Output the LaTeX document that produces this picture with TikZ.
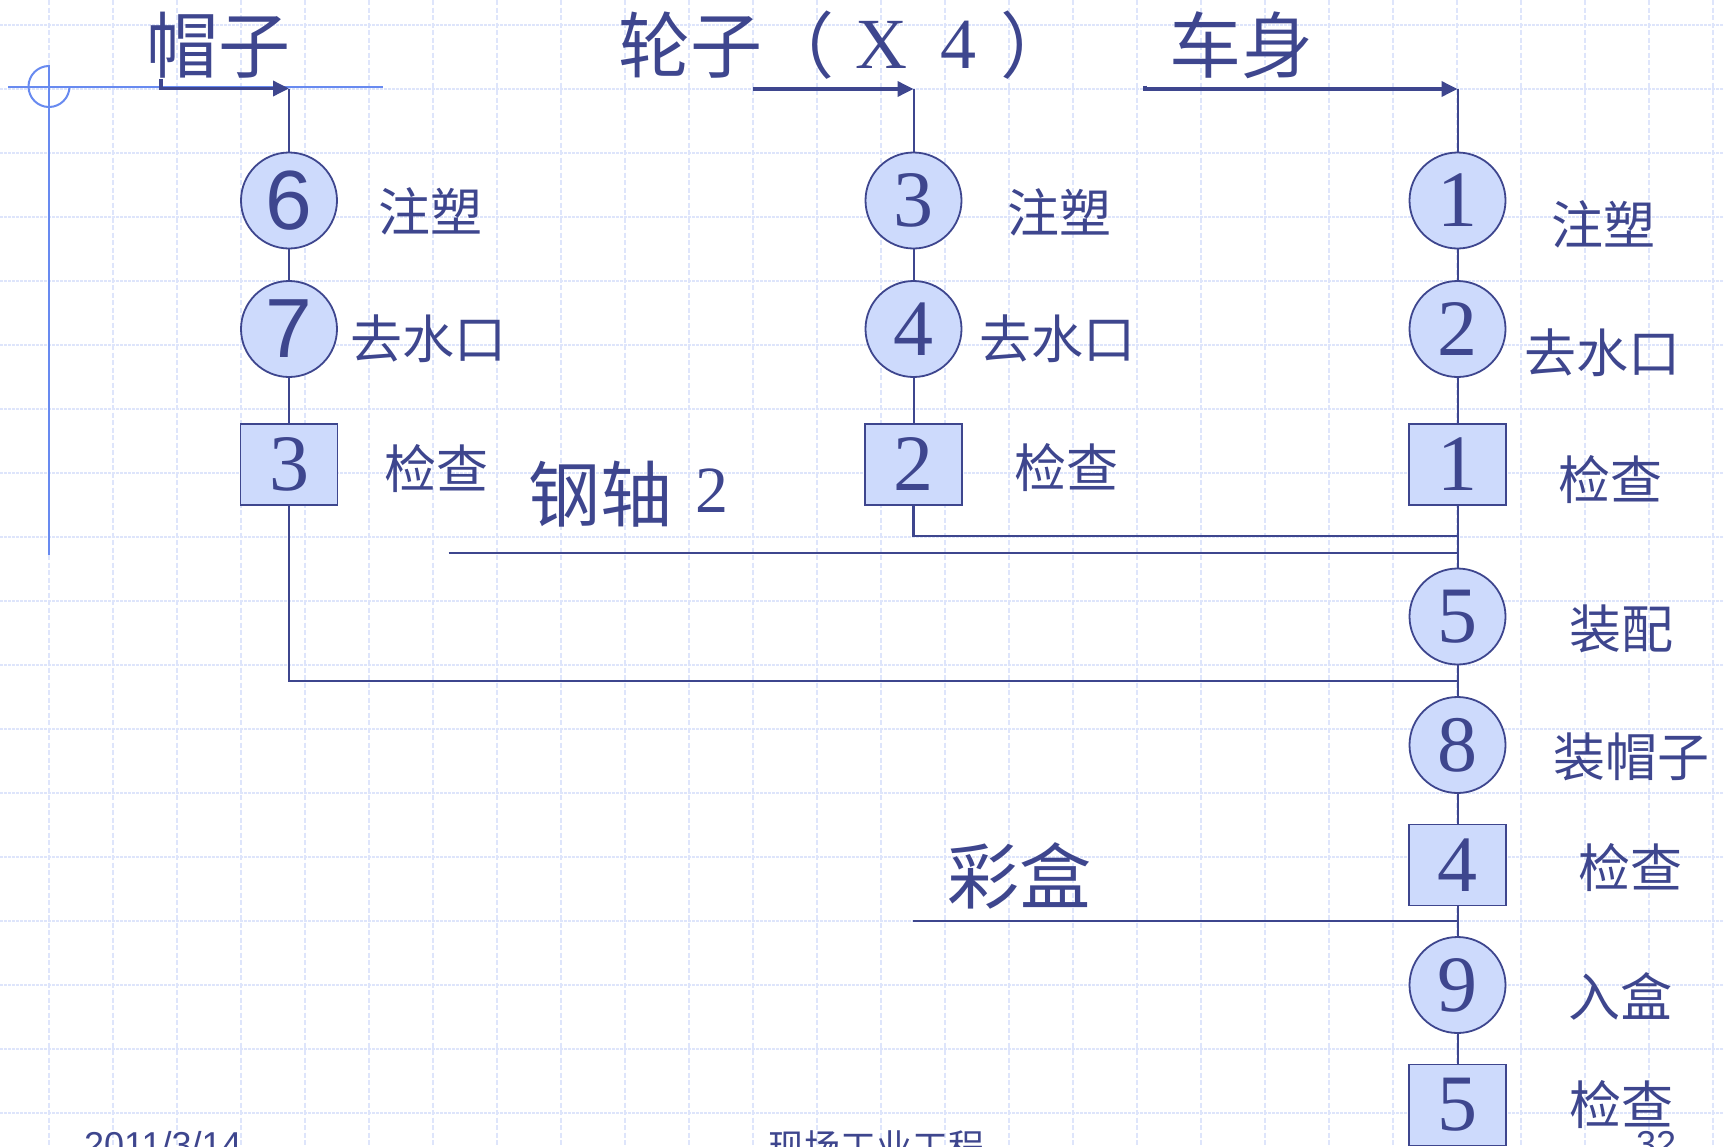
\documentclass[tikz,border=0pt]{standalone}
\usepackage{fontspec}
\setmainfont{Liberation Serif}
\newfontfamily\cjk{Noto Sans CJK SC}
\newfontfamily\sansf{Liberation Sans}
\usetikzlibrary{arrows.meta}
\newcommand\setfs[1]{\fontsize{#1pt}{#1pt}\selectfont}
\definecolor{navy}{RGB}{62,70,142}
\definecolor{nfill}{RGB}{205,218,252}
\definecolor{deco}{RGB}{104,138,240}
\definecolor{gridc}{RGB}{222,229,251}
\tikzset{
  gridv/.style={draw=gridc, line width=1.2pt, dash pattern=on 5pt off 2.5pt},
  gridh/.style={draw=gridc, line width=1.2pt, dash pattern=on 2.5pt off 1.5pt},
  decoline/.style={draw=deco, line width=2pt},
  circ/.style={circle, draw=navy, fill=nfill, line width=1.8pt, minimum size=96pt, inner sep=0pt, text=navy, font=\setfs{80}},
  sansdig/.style={font=\sansf\setfs{84}},
  sq/.style={rectangle, draw=navy, fill=nfill, line width=1.8pt, minimum width=97pt, minimum height=81pt, inner sep=0pt, text=navy, font=\setfs{80}},
  lab/.style={text=navy, inner sep=0pt, font=\cjk\setfs{52}},
  ttl/.style={text=navy, inner sep=0pt, font=\cjk\setfs{72}},
  foot/.style={text=navy, inner sep=0pt, font=\sansf\setfs{36}},
  conn/.style={draw=navy, line width=2pt},
  hline/.style={draw=navy, line width=2.4pt},
  arr/.style={draw=navy, line width=3.5pt, line join=miter, -{Triangle[length=16pt,width=15pt]}}
}
\begin{document}
\begin{tikzpicture}[x=1pt,y=-1pt]
\useasboundingbox (0,0) rectangle (1724,1146);
\clip (0,0) rectangle (1724,1146);
\fill[white] (0,0) rectangle (1724,1146);
% grid
\foreach \i in {0,...,26} \draw[gridv] ({49+64*\i},0) -- ({49+64*\i},1146);
\foreach \j in {0,...,17} \draw[gridh] (0,{25+64*\j}) -- (1724,{25+64*\j});
% template decoration
\draw[decoline] (8,86.5) -- (383,86.5);
\draw[decoline] (49,65) -- (49,555);
\draw[decoline] (49,66) arc[start angle=270, end angle=0, radius=20.5];
% titles
\node[ttl] (tHat) at (218.5,45) {帽子};
\node[ttl, anchor=west] (tWheel) at (618,45) {轮子（\hspace{21pt}\raisebox{4pt}{\rmfamily X}\hspace{33pt}\raisebox{4pt}{\rmfamily 4}\hspace{24pt}）};
\node[ttl] (tBody) at (1241.5,45) {车身};
\node[ttl, anchor=west] (tSteel) at (528,494) {钢轴\hspace{23pt}\raisebox{9pt}{\rmfamily\setfs{66}2}};
\node[ttl] (tBox) at (1019,876) {彩盒};
% column 1 : hat
\node[circ, sansdig] (c6) at (289,200.5) {6};
\node[circ, sansdig] (c7) at (289,329) {7};
\node[sq] (b3) at (289,464.5) {3};
\node[lab] (l6) at (430,211) {注塑};
\node[lab] (l7) at (428,339) {去水口};
\node[lab] (l3) at (436,469) {检查};
% column 2 : wheel
\node[circ] (c3) at (913.5,200.5) {3};
\node[circ] (c4) at (913.5,329) {4};
\node[sq] (b2) at (913.5,464.5) {2};
\node[lab] (l3b) at (1059,212) {注塑};
\node[lab] (l4) at (1057.5,339) {去水口};
\node[lab] (l2) at (1066,468) {检查};
% main column : body
\node[circ] (c1) at (1457.5,200.5) {1};
\node[circ] (c2) at (1457.5,329) {2};
\node[sq] (b1) at (1457.5,464.5) {1};
\node[circ] (c5) at (1457.5,616.5) {5};
\node[circ] (c8) at (1457.5,745) {8};
\node[sq] (b4) at (1457.5,865) {4};
\node[circ] (c9) at (1457.5,985) {9};
\node[sq] (b5) at (1457.5,1105) {5};
\node[lab] (l1) at (1603,224.5) {注塑};
\node[lab] (l2b) at (1602,353) {去水口};
\node[lab] (l1b) at (1610,480) {检查};
\node[lab] (l5) at (1621,629) {装配};
\node[lab] (l8) at (1631.5,756.5) {装帽子};
\node[lab] (l4b) at (1630,868) {检查};
\node[lab] (l9) at (1620,996) {入盒};
\node[lab] (l5b) at (1621,1105) {检查};
% coordinates
\coordinate (hatS) at (161,79);
\coordinate (hatT) at (289,88.5);
\coordinate (wheelS) at (753,89);
\coordinate (wheelT) at (913.5,89);
\coordinate (bodyS) at (1145,85.5);
\coordinate (bodyT) at (1457.5,89);
\coordinate (j2) at (1457.5,536);
\coordinate (steelS) at (448.6,552.7);
\coordinate (j3) at (1457.5,552.7);
\coordinate (j1) at (1457.5,681);
\coordinate (boxS) at (913,921);
\coordinate (j4) at (1457.5,921);
% arrows
\draw[arr] (hatS) |- (hatT);
\draw[arr] (wheelS) -- (wheelT);
\draw[arr] (bodyS) |- (bodyT);
% column connectors
\draw[conn] (hatT) -- (c6);
\draw[conn] (c6) -- (c7);
\draw[conn] (c7) -- (b3);
\draw[conn] (wheelT) -- (c3);
\draw[conn] (c3) -- (c4);
\draw[conn] (c4) -- (b2);
\draw[conn] (bodyT) -- (c1);
\draw[conn] (c1) -- (c2);
\draw[conn] (c2) -- (b1);
\draw[conn] (b1) -- (c5);
\draw[conn] (c5) -- (c8);
\draw[conn] (c8) -- (b4);
\draw[conn] (b4) -- (c9);
\draw[conn] (c9) -- (b5);
% branches
\draw[hline] (b2) |- (j2);
\draw[hline] (steelS) -- (j3);
\draw[hline] (b3) |- (j1);
\draw[hline] (boxS) -- (j4);
% footer (cut off by the lower edge, as in the reference)
\node[foot, anchor=north west] (fDate) at (84,1131) {2011/3/14};
\node[foot, font=\cjk\setfs{36}, anchor=north west] (fTitle) at (768,1130) {现场工业工程};
\node[foot, anchor=north west] (fPage) at (1636,1131) {32};
\end{tikzpicture}
\end{document}
